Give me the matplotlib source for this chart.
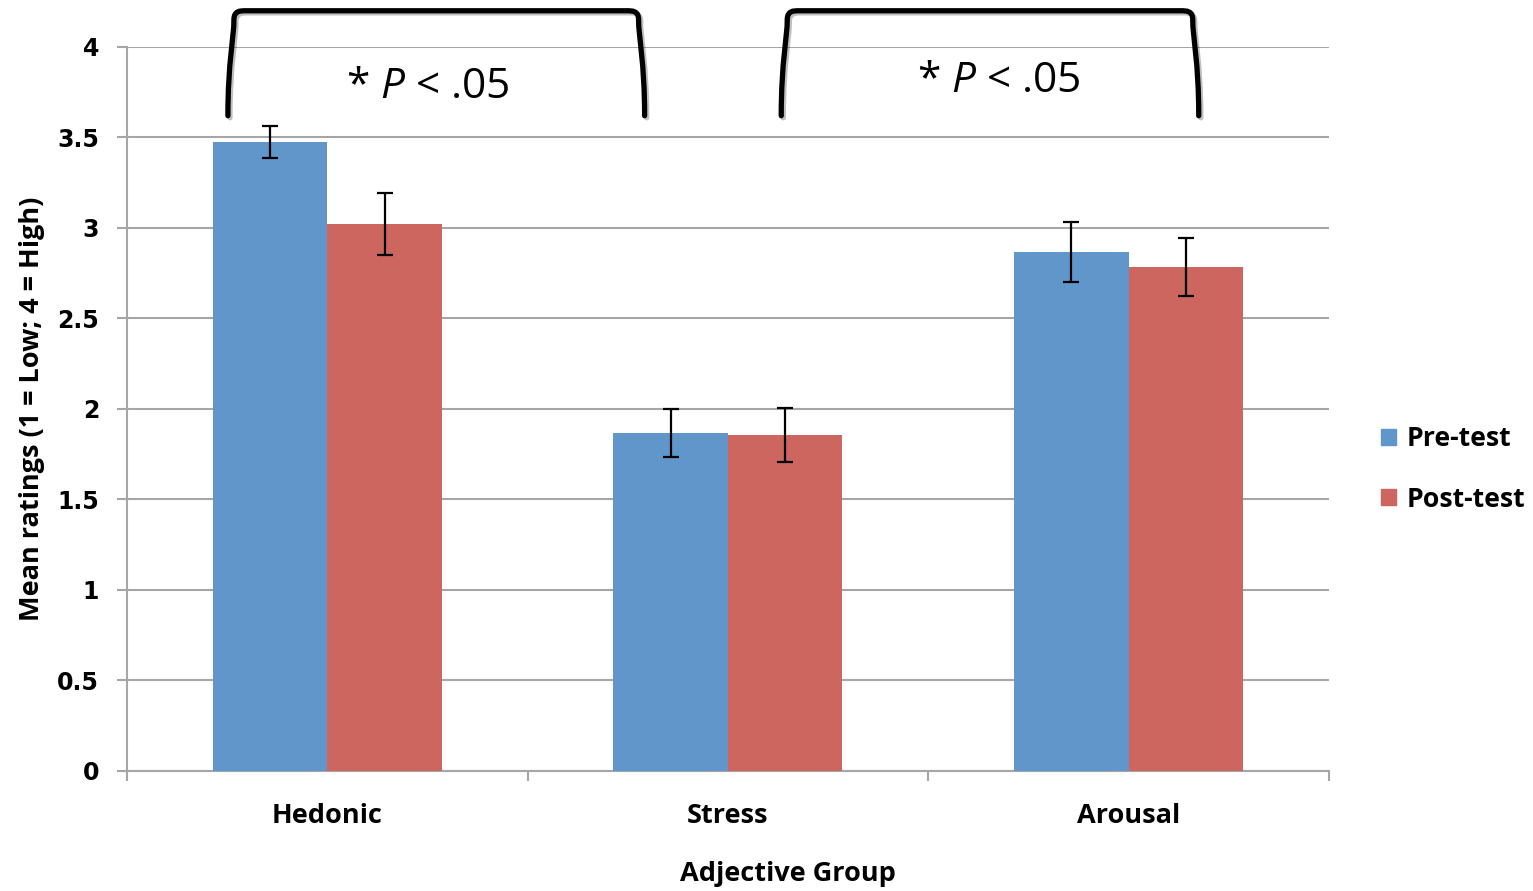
import numpy as np
import matplotlib
matplotlib.use("Agg")
import matplotlib.pyplot as plt
from matplotlib.path import Path
from matplotlib.patches import PathPatch, Patch
import matplotlib.patheffects as pe

groups = ["Hedonic", "Stress", "Arousal"]
pre_test = [3.475, 1.867, 2.867]
post_test = [3.02, 1.856, 2.785]
pre_err = [0.09, 0.133, 0.165]
post_err = [0.172, 0.15, 0.16]
y_ticks = [0, 0.5, 1, 1.5, 2, 2.5, 3, 3.5, 4]
y_tick_labels = ["0", "0.5", "1", "1.5", "2", "2.5", "3", "3.5", "4"]

# bracket spans (x from, x to, text x, text y) in data units
brackets = [(-0.248, 0.792, 0.25, 3.78), (1.133, 2.175, 1.675, 3.81)]
bracket_bottom = 3.62
bracket_top = 4.2
sig_text = "* $\\mathit{P}$ < .05"

label_font = "Open Sans"
plt.rcParams["mathtext.fontset"] = "custom"
plt.rcParams["mathtext.rm"] = label_font
plt.rcParams["mathtext.it"] = label_font + ":italic"

blue = "#6096c9"
red = "#cc665f"
grid_c = "#a6a6a6"

fig = plt.figure(figsize=(15.33, 8.91), dpi=100)
ax = fig.add_axes([0.0828, 0.1347, 0.7841, 0.8126])

x = np.arange(len(groups))
w = 1 / 3.5
ax.bar(x - w / 2, pre_test, w, color=blue, edgecolor="none", zorder=3)
ax.bar(x + w / 2, post_test, w, color=red, edgecolor="none", zorder=3)
ax.errorbar(x - w / 2, pre_test, yerr=pre_err, fmt="none", ecolor="black",
            elinewidth=1.6, capsize=6, capthick=1.6, zorder=4)
ax.errorbar(x + w / 2, post_test, yerr=post_err, fmt="none", ecolor="black",
            elinewidth=1.6, capsize=6, capthick=1.6, zorder=4)

ax.set_xlim(-0.5, 2.5)
ax.set_ylim(0, 4)
ax.set_yticks(y_ticks)
ax.set_yticklabels(y_tick_labels, fontfamily="DejaVu Sans", fontweight="bold", fontsize=17)
ax.yaxis.grid(True, color=grid_c, linewidth=1.5, zorder=0)
ax.set_axisbelow(True)

ax.set_xticks(x)
ax.set_xticklabels(groups, fontfamily=label_font, fontweight="bold", fontsize=19.5)
ax.set_xticks([-0.5, 0.5, 1.5, 2.5], minor=True)
ax.tick_params(axis="x", which="major", length=0, pad=23)
ax.tick_params(axis="x", which="minor", length=7, width=1.5, color=grid_c)
ax.tick_params(axis="y", length=7, width=1.5, color=grid_c, pad=13)

for s in ["top", "right"]:
    ax.spines[s].set_visible(False)
for s in ["left", "bottom"]:
    ax.spines[s].set_color(grid_c)
    ax.spines[s].set_linewidth(1.5)

ax.set_xlabel("Adjective Group", fontfamily=label_font, fontweight="bold", fontsize=19.5,
              labelpad=23)
ax.xaxis.label.set_x(0.55)
ax.set_ylabel("Mean ratings (1 = Low; 4 = High)", fontfamily=label_font, fontweight="bold",
              fontsize=19.5, labelpad=9)

# significance brackets with rounded top corners
for x0, x1, tx, ty in brackets:
    dx = 0.015
    dy = 0.05
    verts = [
        (x0, bracket_bottom),
        (x0, bracket_bottom + 0.3), (x0 + dx, bracket_top - 0.15), (x0 + dx, bracket_top - dy),
        (x0 + dx, bracket_top), (x0 + 2 * dx, bracket_top), (x0 + 3 * dx, bracket_top),
        (x1 - 3 * dx, bracket_top),
        (x1 - 2 * dx, bracket_top), (x1 - dx, bracket_top), (x1 - dx, bracket_top - dy),
        (x1 - dx, bracket_top - 0.15), (x1, bracket_bottom + 0.3), (x1, bracket_bottom),
    ]
    codes = [Path.MOVETO,
             Path.CURVE4, Path.CURVE4, Path.CURVE4,
             Path.CURVE4, Path.CURVE4, Path.CURVE4,
             Path.LINETO,
             Path.CURVE4, Path.CURVE4, Path.CURVE4,
             Path.CURVE4, Path.CURVE4, Path.CURVE4]
    patch = PathPatch(Path(verts, codes), facecolor="none", edgecolor="black",
                      linewidth=3.8, capstyle="round", clip_on=False, zorder=5)
    patch.set_path_effects([pe.SimpleLineShadow(offset=(1.5, -1.5), alpha=0.25),
                            pe.Normal()])
    ax.add_patch(patch)
    ax.text(tx, ty, sig_text, ha="center", va="center", fontsize=30.5,
            fontfamily=label_font, clip_on=False)

handles = [Patch(color=blue), Patch(color=red)]
fig.legend(handles, ["Pre-test", "Post-test"], loc="center left",
           bbox_to_anchor=(0.901, 0.473), frameon=False, borderpad=0, borderaxespad=0,
           prop={"family": label_font, "weight": "bold", "size": 19.2},
           handlelength=0.55, handleheight=0.55, handletextpad=0.4, labelspacing=1.3)

fig.savefig("out.png", dpi=100)
